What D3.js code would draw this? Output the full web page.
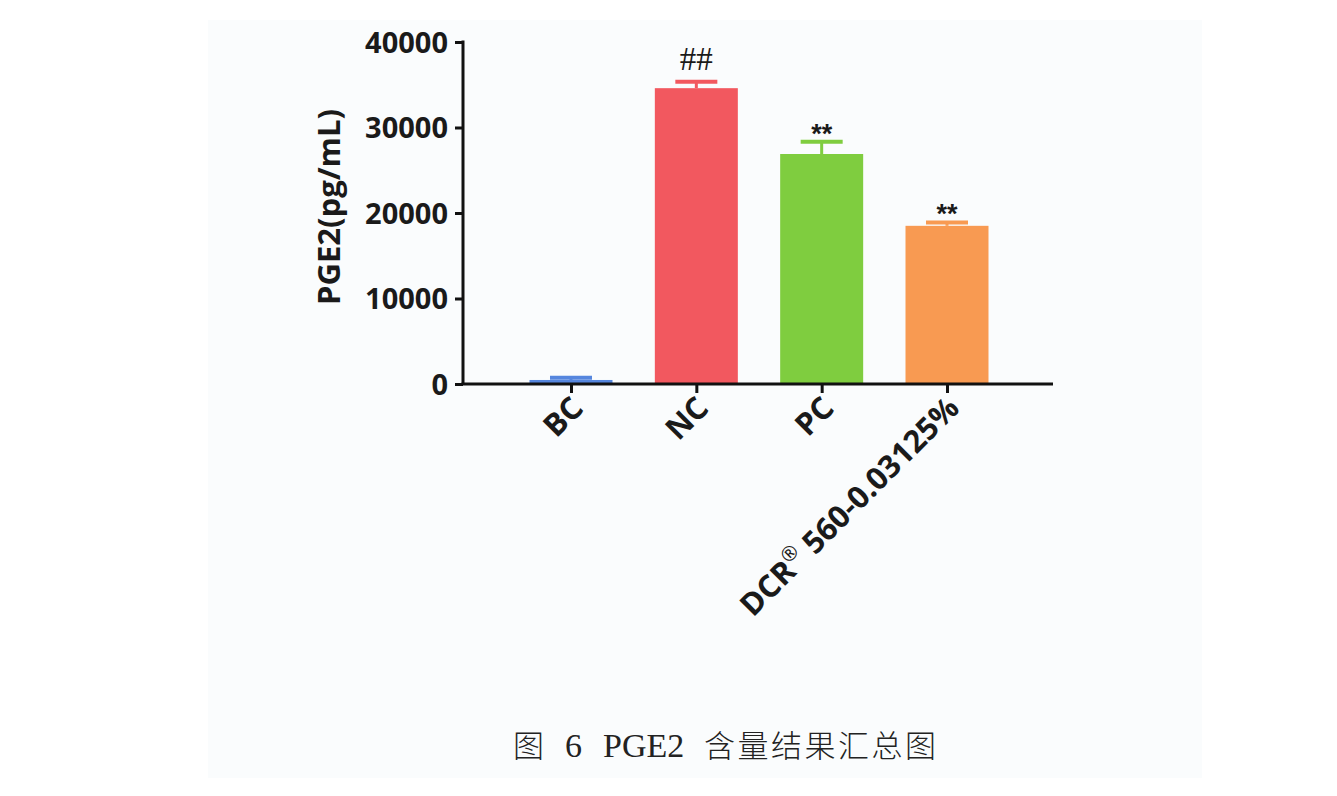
<!DOCTYPE html>
<html><head><meta charset="utf-8">
<script src="https://cdn.jsdelivr.net/npm/d3@7/dist/d3.min.js"></script>
<style>
html,body{margin:0;padding:0;background:#ffffff;}
svg{display:block;}
</style></head>
<body>
<script>
// ---- data ----
const categories = ["BC", "NC", "PC", "DCR560"];
const categoryLabels = ["BC", "NC", "PC", "DCR® 560-0.03125%"];
const means = [470, 34600, 26900, 18500];
const errors = [270, 760, 1440, 400];
const marks = ["", "##", "**", "**"];
const barColors = ["#5586de", "#f2585f", "#7fcd3f", "#f89a52"];
const yTicks = [0, 10000, 20000, 30000, 40000];
const yLabel = "PGE2(pg/mL)";
const caption = ["图", "6", "PGE2", "含量结果汇总图"];

const W = 1337, H = 796;
const svg = d3.select("body").append("svg").attr("width", W).attr("height", H);

// scanned-page panel
svg.append("rect").attr("x", 208).attr("y", 20).attr("width", 994).attr("height", 758).attr("fill", "#fafcfd");

const y = d3.scaleLinear().domain([0, 40000]).range([384, 42]);
const x = d3.scalePoint().domain(categories).range([571, 947]);
const barW = 83;
const axisLeft = 463, axisRight = 1053;
const font = "'Open Sans', sans-serif";

// bars
const g = svg.append("g");
g.selectAll("rect.bar").data(categories).join("rect")
  .attr("class", "bar")
  .attr("x", d => x(d) - barW / 2)
  .attr("width", barW)
  .attr("y", (d, i) => y(means[i]))
  .attr("height", (d, i) => y(0) - y(means[i]))
  .attr("fill", (d, i) => barColors[i]);

// error bars (upper only)
g.selectAll("line.err").data(categories).join("line")
  .attr("x1", d => x(d)).attr("x2", d => x(d))
  .attr("y1", (d, i) => y(means[i])).attr("y2", (d, i) => y(means[i] + errors[i]))
  .attr("stroke", (d, i) => barColors[i]).attr("stroke-width", 3);
g.selectAll("line.cap").data(categories).join("line")
  .attr("x1", d => x(d) - 21).attr("x2", d => x(d) + 21)
  .attr("y1", (d, i) => y(means[i] + errors[i])).attr("y2", (d, i) => y(means[i] + errors[i]))
  .attr("stroke", (d, i) => barColors[i]).attr("stroke-width", 4);

// significance marks
g.selectAll("text.mark").data(categories).join("text")
  .attr("x", d => x(d))
  .attr("y", (d, i) => y(means[i] + errors[i]) - (marks[i] === "##" ? 12 : -1))
  .attr("text-anchor", "middle")
  .attr("font-family", (d, i) => marks[i] === "##" ? "'Liberation Serif', serif" : "'Liberation Sans', sans-serif")
  .attr("font-weight", (d, i) => marks[i] === "##" ? 400 : 700)
  .attr("font-size", (d, i) => marks[i] === "##" ? 33 : 27)
  .attr("fill", "#1a1a1a")
  .text((d, i) => marks[i]);

// y axis
const yAxis = d3.axisLeft(y).tickValues(yTicks).tickSize(8).tickPadding(7).tickFormat(d3.format("d"));
const ya = svg.append("g").attr("transform", `translate(${axisLeft},0)`).call(yAxis);
ya.select(".domain").attr("stroke", "#111").attr("stroke-width", 3).attr("d", `M0,${y(40000) - 1.5}V${y(0)}`);
ya.selectAll(".tick line").attr("stroke", "#111").attr("stroke-width", 3);
ya.selectAll(".tick text").attr("font-family", font).attr("font-weight", 700).attr("font-size", 29).attr("fill", "#1a1a1a").attr("dy", "0.36em");

// x axis
const xAxis = d3.axisBottom(x).tickSize(9).tickFormat(() => "");
const xa = svg.append("g").attr("transform", `translate(0,${y(0)})`).call(xAxis);
xa.select(".domain").attr("stroke", "#111").attr("stroke-width", 3).attr("d", `M${axisLeft - 1.5},0H${axisRight}`);
xa.selectAll(".tick line").attr("stroke", "#111").attr("stroke-width", 3);

// x labels, rotated
const xl = svg.append("g");
categories.forEach((c, i) => {
  const t = xl.append("text")
    .attr("transform", `translate(${x(c) + 14},${y(0) + 26}) rotate(-45)`)
    .attr("text-anchor", "end")
    .attr("font-family", font).attr("font-weight", 700).attr("font-size", 31).attr("fill", "#1a1a1a");
  const lab = categoryLabels[i];
  if (lab.includes("®")) {
    const parts = lab.split("®");
    t.append("tspan").text(parts[0]);
    t.append("tspan").attr("font-size", 20).attr("font-weight", 400).attr("dy", -13).text("®");
    t.append("tspan").attr("dy", 13).text(parts[1]);
  } else {
    t.text(lab);
  }
});

// y label
svg.append("text")
  .attr("transform", `translate(340,207) rotate(-90)`)
  .attr("text-anchor", "middle")
  .attr("font-family", font).attr("font-weight", 700).attr("font-size", 31).attr("fill", "#1a1a1a")
  .text(yLabel);

// caption
const cap = svg.append("text").attr("y", 757).attr("font-size", 33).attr("fill", "#222");
const capX = [513, 565, 603, 704];
caption.forEach((s, i) => {
  const isLatin = /^[A-Za-z0-9]+$/.test(s);
  cap.append("tspan").attr("x", capX[i])
    .attr("font-family", isLatin ? "'Liberation Serif', serif" : "'Noto Sans CJK SC', sans-serif")
    .attr("font-weight", isLatin ? 400 : 300)
    .attr("font-size", isLatin ? 34 : 31)
    .attr("letter-spacing", isLatin ? 0 : 2.5)
    .text(s);
});
</script>
</body></html>
